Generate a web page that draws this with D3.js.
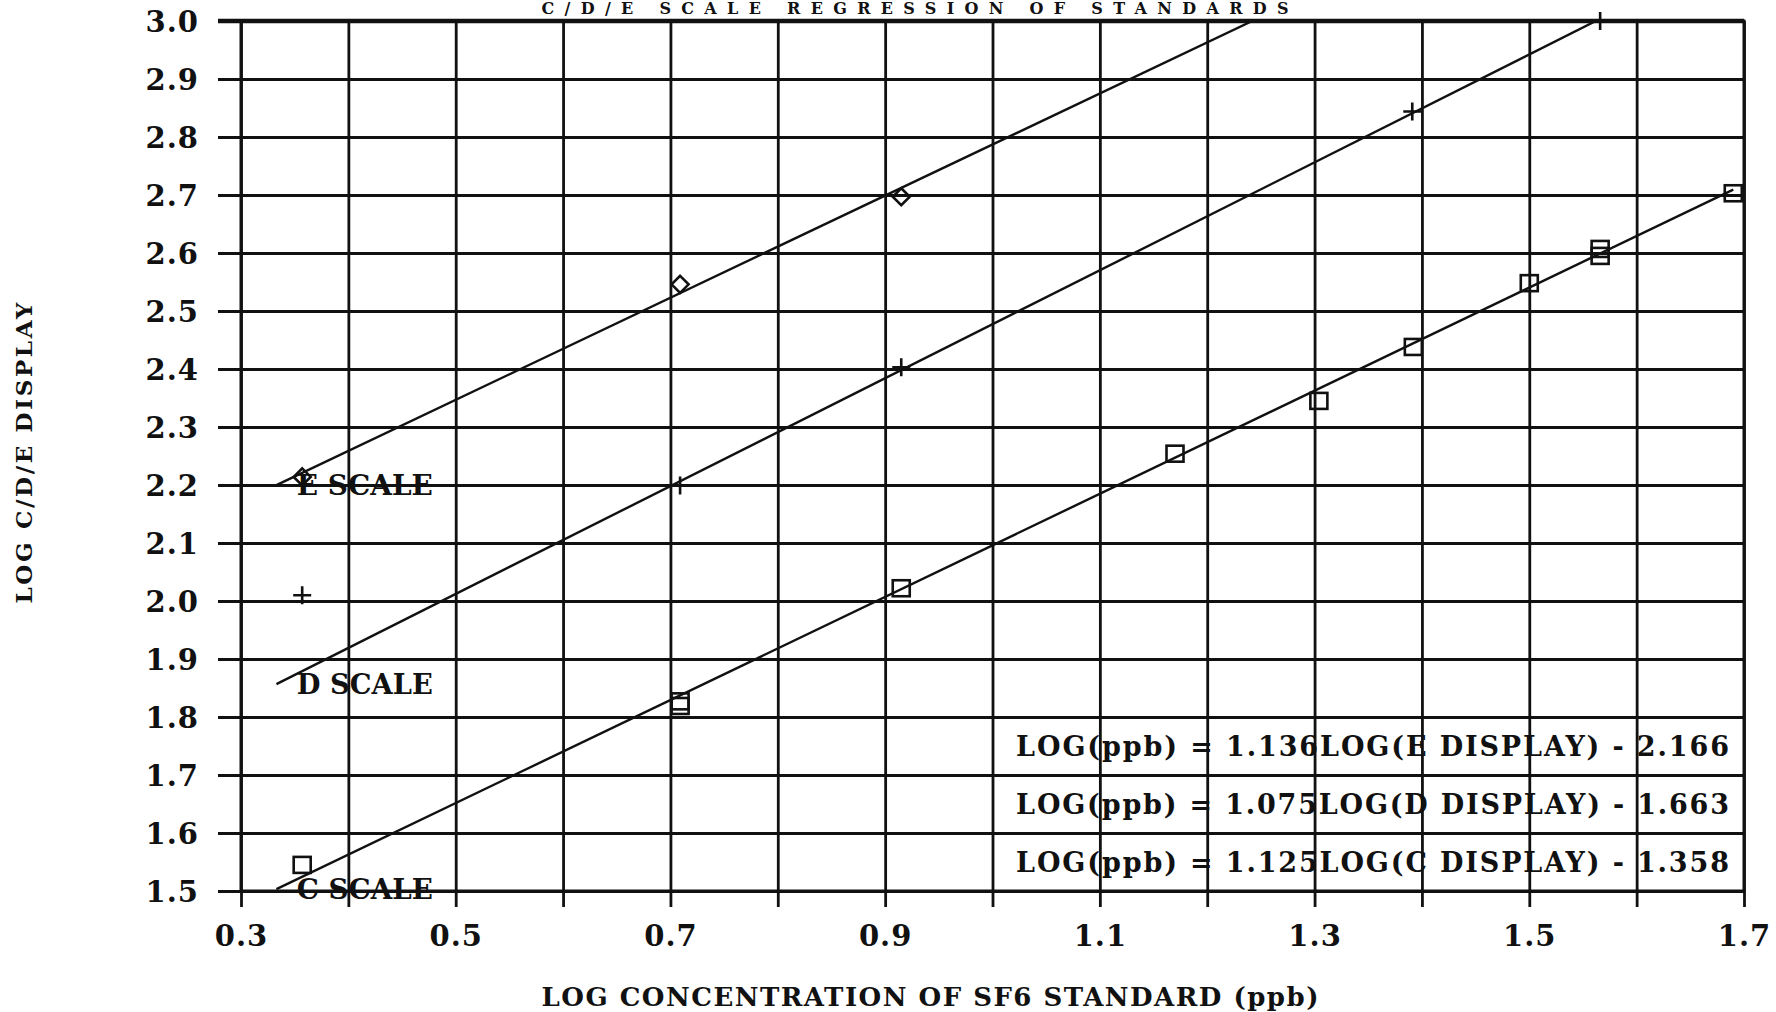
<!DOCTYPE html>
<html>
<head>
<meta charset="utf-8">
<script src="https://cdn.jsdelivr.net/npm/d3@7"></script>
<style>
  body { margin: 0; background: #fff; }
  text { font-family: "DejaVu Serif", "Liberation Serif", serif; font-weight: bold; fill: #111; }
</style>
</head>
<body>
<script>
// C/D/E scale regression of standards

const scaleNames = ["E", "D", "C"]
const slopes = [1.136, 1.075, 1.125]
const intercepts = [2.166, 1.663, 1.358]
const fitStart = 0.333
const fitEnd = 1.69

const eX = [0.357, 0.709, 0.915]
const eY = [2.214, 2.546, 2.697]

const dX = [0.357, 0.709, 0.915, 1.391, 1.566]
const dY = [2.010, 2.199, 2.403, 2.844, 3.0]

const cX = [0.357, 0.709, 0.709, 0.915, 1.170, 1.304, 1.392, 1.500, 1.566, 1.566, 1.690]
const cY = [1.545, 1.827, 1.819, 2.022, 2.254, 2.345, 2.438, 2.548, 2.607, 2.595, 2.703]

const xTicks = d3.range(3, 18).map(d => d / 10)
const yTicks = d3.range(15, 31).map(d => d / 10)
const xLabelled = [0.3, 0.5, 0.7, 0.9, 1.1, 1.3, 1.5, 1.7]

const title = "C/D/E SCALE REGRESSION OF STANDARDS"
const xTitle = "LOG CONCENTRATION OF SF6 STANDARD (ppb)"
const yTitle = "LOG C/D/E DISPLAY"

const margin = { top: 21, right: 32, bottom: 121, left: 241 },
    width = 1776 - margin.left - margin.right,
    height = 1012 - margin.top - margin.bottom

const x = d3.scaleLinear().domain([0.3, 1.7]).range([0, width])
const y = d3.scaleLinear().domain([1.5, 3.0]).range([height, 0])

const svg = d3.select("body").append("svg")
    .attr("width", 1776)
    .attr("height", 1012)

svg.append("text")
    .attr("x", 915)
    .attr("y", 14)
    .attr("text-anchor", "middle")
    .attr("font-size", 16)
    .attr("textLength", 747)
    .attr("lengthAdjust", "spacing")
    .text(title)

const g = svg.append("g")
    .attr("transform", `translate(${margin.left},${margin.top})`)

g.append("clipPath").attr("id", "plotclip")
    .append("rect").attr("width", width).attr("height", height)

// grid + y axis
const yAxis = g.append("g")
    .call(d3.axisLeft(y).tickValues(yTicks).tickSize(-width).tickPadding(42)
        .tickFormat(d3.format(".1f")))
yAxis.select(".domain").remove()
yAxis.selectAll(".tick line")
    .attr("x1", -23)
    .attr("stroke", "#111")
    .attr("stroke-width", 2.8)
yAxis.selectAll(".tick text")
    .attr("font-size", 29)
    .attr("dy", "0.36em")
    .style("letter-spacing", "1px")

// grid + x axis
const xAxis = g.append("g")
    .attr("transform", `translate(0,${height})`)
    .call(d3.axisBottom(x).tickValues(xTicks).tickSize(-height).tickPadding(34)
        .tickFormat(d => xLabelled.some(v => Math.abs(v - d) < 1e-6) ? d3.format(".1f")(d) : ""))
xAxis.select(".domain").remove()
xAxis.selectAll(".tick line")
    .attr("y1", 16)
    .attr("stroke", "#111")
    .attr("stroke-width", 2.8)
xAxis.selectAll(".tick text")
    .attr("font-size", 29)
    .style("letter-spacing", "1px")

// frame
g.append("rect")
    .attr("width", width)
    .attr("height", height)
    .attr("fill", "none")
    .attr("stroke", "#111")
    .attr("stroke-width", 3)
g.append("line")
    .attr("x1", -23).attr("x2", width)
    .attr("y1", y(3.0)).attr("y2", y(3.0))
    .attr("stroke", "#111")
    .attr("stroke-width", 4.5)

// fitted lines, log(display) = (log(ppb) + b) / m
const fits = g.append("g").attr("clip-path", "url(#plotclip)")
scaleNames.forEach((s, i) => {
    let f = v => (v + intercepts[i]) / slopes[i]
    let xe = Math.min(fitEnd, 3.0 * slopes[i] - intercepts[i])
    fits.append("line")
        .attr("x1", x(fitStart)).attr("y1", y(f(fitStart)))
        .attr("x2", x(xe)).attr("y2", y(f(xe)))
        .attr("stroke", "#111")
        .attr("stroke-width", 2.4)

    g.append("text")
        .attr("x", x(0.352))
        .attr("y", y(f(fitStart)))
        .attr("dy", "0.36em")
        .attr("font-size", 27)
        .attr("textLength", 136)
        .attr("lengthAdjust", "spacingAndGlyphs")
        .text(`${s} SCALE`)
})

// markers
const marks = g.append("g")
    .attr("fill", "none")
    .attr("stroke", "#111")
    .attr("stroke-width", 2.6)

marks.selectAll(".diamond")
    .data(d3.zip(eX, eY))
    .enter().append("path")
    .attr("class", "diamond")
    .attr("d", "M0,-8.5L8.5,0L0,8.5L-8.5,0Z")
    .attr("transform", d => `translate(${x(d[0])},${y(d[1])})`)

marks.selectAll(".plus")
    .data(d3.zip(dX, dY))
    .enter().append("path")
    .attr("class", "plus")
    .attr("d", "M-9,0H9M0,-9V9")
    .attr("transform", d => `translate(${x(d[0])},${y(d[1])})`)

marks.selectAll(".square")
    .data(d3.zip(cX, cY))
    .enter().append("rect")
    .attr("class", "square")
    .attr("x", d => x(d[0]) - 8.5)
    .attr("y", d => y(d[1]) - 8)
    .attr("width", 17)
    .attr("height", 16)

// equations
const eqRows = [1.75, 1.65, 1.55]
scaleNames.forEach((s, i) => {
    g.append("text")
        .attr("x", x(1.022))
        .attr("y", y(eqRows[i]))
        .attr("dy", "0.36em")
        .attr("font-size", 27)
        .attr("textLength", x(1.686) - x(1.022))
        .attr("lengthAdjust", "spacing")
        .text(`LOG(ppb) = ${slopes[i].toFixed(3)}LOG(${s} DISPLAY) - ${intercepts[i].toFixed(3)}`)
})

// axis titles
svg.append("text")
    .attr("x", 930)
    .attr("y", 997)
    .attr("dy", "0.36em")
    .attr("text-anchor", "middle")
    .attr("font-size", 26)
    .attr("textLength", 777)
    .attr("lengthAdjust", "spacing")
    .text(xTitle)

svg.append("text")
    .attr("transform", "translate(24,453) rotate(-90)")
    .attr("dy", "0.36em")
    .attr("text-anchor", "middle")
    .attr("font-size", 23)
    .attr("textLength", 301)
    .attr("lengthAdjust", "spacing")
    .text(yTitle)
</script>
</body>
</html>
